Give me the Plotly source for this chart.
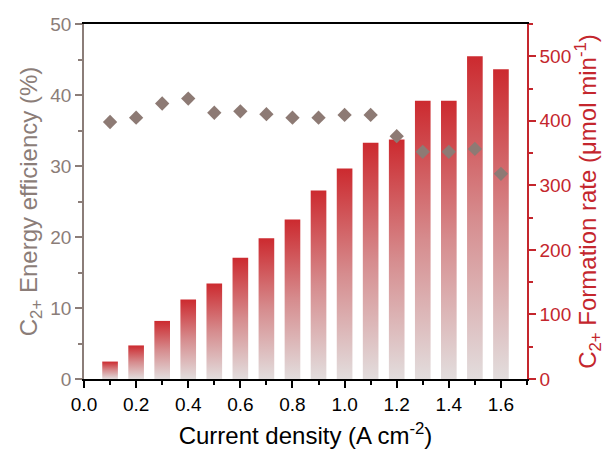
import plotly.graph_objects as go

# Current density (A cm^-2)
current_density = [0.1, 0.2, 0.3, 0.4, 0.5, 0.6, 0.7, 0.8,
                    0.9, 1.0, 1.1, 1.2, 1.3, 1.4, 1.5, 1.6]
# C2+ formation rate (umol min^-1), bars on the right axis
formation_rate = [27, 52, 90, 123, 148, 188, 218, 247,
                  292, 326, 366, 371, 431, 431, 500, 480]
# C2+ energy efficiency (%), diamonds on the left axis
energy_eff = [36.2, 36.8, 38.8, 39.5, 37.5, 37.7, 37.3, 36.8,
              36.8, 37.2, 37.2, 34.2, 32.0, 32.0, 32.4, 28.9]

BAR_W = 0.06
RED = "#c4262d"
BROWN = "#8b7d78"
FONT = "Liberation Sans, Arial, sans-serif"

fig = go.Figure()

# each bar is a filled rectangle with a vertical red -> light grey gradient
for xc, v in zip(current_density, formation_rate):
    x0, x1 = xc - BAR_W / 2, xc + BAR_W / 2
    fig.add_trace(go.Scatter(
        x=[x0, x0, x1, x1, x0], y=[0, v, v, 0, 0],
        mode="lines", line=dict(width=0), fill="toself",
        fillgradient=dict(type="vertical",
                          colorscale=[[0, "#e2dddd"], [0.5, "#d68c8e"], [1, "#cc2a2f"]]),
        yaxis="y", showlegend=False, hoverinfo="skip"))

fig.add_trace(go.Scatter(
    x=current_density, y=energy_eff, mode="markers",
    marker=dict(symbol="diamond", size=11, color="#8d7a74"),
    yaxis="y2", showlegend=False))

tickfont = dict(family=FONT, size=19)
fig.update_layout(
    width=609, height=457,
    margin=dict(l=84, r=82, t=24, b=76),
    paper_bgcolor="white", plot_bgcolor="white",
    font=dict(family=FONT),
    xaxis=dict(
        range=[0, 1.7], dtick=0.2, tick0=0, tickformat=".1f",
        showgrid=False, zeroline=False,
        showline=True, linecolor="black", linewidth=1.5, mirror=True,
        ticks="outside", ticklen=7, tickwidth=1.5, tickcolor="black",
        minor=dict(dtick=0.1, ticks="outside", ticklen=4, tickwidth=1.5, tickcolor="black"),
        tickfont=dict(tickfont, color="black"),
        title=dict(text="Current density (A cm<sup>-2</sup>)",
                   font=dict(family=FONT, size=24, color="black"), standoff=14),
    ),
    yaxis=dict(
        side="right", range=[0, 550], dtick=100, tick0=0,
        showgrid=False, zeroline=False,
        showline=True, linecolor=RED, linewidth=1.5,
        ticks="outside", ticklen=7, tickwidth=1.5, tickcolor=RED,
        minor=dict(dtick=50, ticks="outside", ticklen=4, tickwidth=1.5, tickcolor=RED),
        tickfont=dict(tickfont, color=RED),
        title=dict(text="C<sub>2+</sub> Formation rate (μmol min<sup>-1</sup>)",
                   font=dict(family=FONT, size=24, color=RED), standoff=8),
    ),
    yaxis2=dict(
        side="left", overlaying="y", range=[0, 50], dtick=10, tick0=0,
        showgrid=False, zeroline=False,
        showline=True, linecolor=BROWN, linewidth=1.5,
        ticks="outside", ticklen=7, tickwidth=1.5, tickcolor=BROWN,
        minor=dict(dtick=5, ticks="outside", ticklen=4, tickwidth=1.5, tickcolor=BROWN),
        tickfont=dict(tickfont, color=BROWN),
        title=dict(text="C<sub>2+</sub> Energy efficiency (%)",
                   font=dict(family=FONT, size=24, color=BROWN), standoff=6),
    ),
)

fig.write_html("out.html")
